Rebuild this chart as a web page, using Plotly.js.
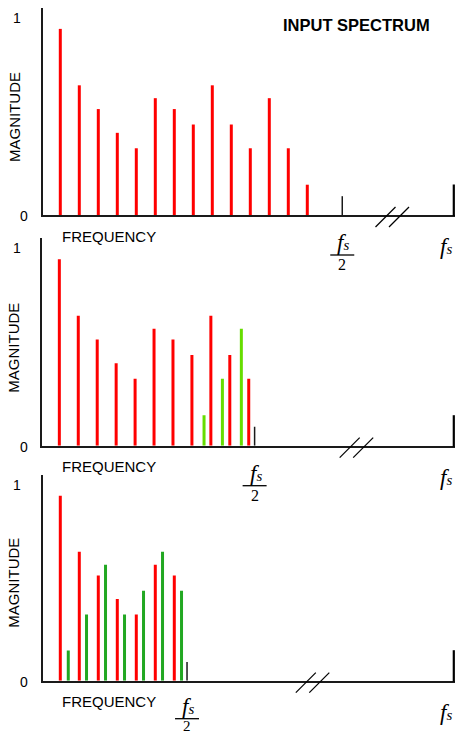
<!DOCTYPE html>
<html><head><meta charset="utf-8">
<script src="https://cdn.plot.ly/plotly-3.0.1.min.js"></script>
<style>html,body{margin:0;padding:0;background:#fff}</style>
</head><body><div id="chart" style="width:455px;height:737px"></div>
<script>
// ---------- DATA ----------
// Panel 1: input spectrum (harmonic number vs magnitude)
const p1RedFreq = [1, 2, 3, 4, 5, 6, 7, 8, 9, 10, 11, 12, 13, 14];
const p1RedMag  = [0.94, 0.655, 0.535, 0.415, 0.337, 0.59, 0.535, 0.457, 0.655, 0.457, 0.337, 0.59, 0.337, 0.153];
const p1HalfFs = 15.84;

// Panel 2: sampled just below Nyquist, a few aliased components
const p2RedFreq = [1, 2, 3, 4, 5, 6, 7, 8, 9, 10, 11];
const p2RedMag  = [0.94, 0.655, 0.535, 0.415, 0.337, 0.59, 0.535, 0.457, 0.655, 0.457, 0.337];
const p2AliasFreq = [8.64, 9.61, 10.61];
const p2AliasMag  = [0.153, 0.337, 0.59];
const p2HalfFs = 11.31;

// Panel 3: heavily undersampled, many aliases
const p3RedFreq = [1, 2, 3, 4, 5, 6, 7];
const p3RedMag  = [0.94, 0.655, 0.535, 0.415, 0.337, 0.59, 0.535];
const p3AliasFreq = [1.42, 2.38, 3.38, 4.38, 5.38, 6.38, 7.38];
const p3AliasMag  = [0.153, 0.337, 0.59, 0.337, 0.457, 0.655, 0.457];
const p3HalfFs = 7.67;

const yTickVals = [0, 1];
const yTickText = ['0', '1'];

// ---------- LAYOUT HELPERS ----------
const W = 455, H = 737;
const px = v => v / W;
const py = v => 1 - v / H;

const RED = '#ff0000';
const LIME = '#66dd00';
const GREEN = '#22a822';
const AX = '#1a1a1a';
const SANS = 'Liberation Sans, Arial, Helvetica, sans-serif';
const SERIF = 'Liberation Serif, Times New Roman, serif';
const FS_TEXT = '<i>f</i><span style="font-size:15px"><i>s</i></span>';

// panel geometry: baseline px, "1" px, top px, axis-left px, origin px, px per unit
const panels = [
  {base: 216,   one: 18,    top: 8,   left: 42, origin: 41.3, unit: 19.0,  brk: 392.5, fOff: 27, barOff: 39, twoOff: 48.5, twoSize: 16},
  {base: 446.7, one: 248.3, top: 238, left: 41, origin: 40.4, unit: 18.94, brk: 356.7, fOff: 27, barOff: 39, twoOff: 49,   twoSize: 16},
  {base: 681.7, one: 485,   top: 475, left: 42, origin: 41.3, unit: 19.0,  brk: 312.8, fOff: 25, barOff: 37, twoOff: 44.5, twoSize: 15}
];
const halves = [p1HalfFs, p2HalfFs, p3HalfFs];

function stems(freqs, mags, color, xa, ya) {
  const x = [], y = [];
  freqs.forEach((f, i) => { x.push(f, f, null); y.push(0, mags[i], null); });
  return {type: 'scatter', mode: 'lines', x, y, xaxis: xa, yaxis: ya,
          line: {color, width: 3}, hoverinfo: 'skip', showlegend: false};
}
function tick(f, xa, ya) {
  return {type: 'scatter', mode: 'lines', x: [f, f], y: [0, 0.095], xaxis: xa, yaxis: ya,
          line: {color: AX, width: 1.5}, hoverinfo: 'skip', showlegend: false};
}

const data = [
  stems(p1RedFreq, p1RedMag, RED, 'x', 'y'),
  tick(p1HalfFs, 'x', 'y'),
  stems(p2RedFreq, p2RedMag, RED, 'x2', 'y2'),
  stems(p2AliasFreq, p2AliasMag, LIME, 'x2', 'y2'),
  tick(p2HalfFs, 'x2', 'y2'),
  stems(p3RedFreq, p3RedMag, RED, 'x3', 'y3'),
  stems(p3AliasFreq, p3AliasMag, GREEN, 'x3', 'y3'),
  tick(p3HalfFs, 'x3', 'y3')
];

const layout = {
  width: W, height: H,
  margin: {l: 0, r: 0, t: 0, b: 0},
  paper_bgcolor: '#fff', plot_bgcolor: 'rgba(0,0,0,0)',
  showlegend: false,
  annotations: [], shapes: []
};

panels.forEach((p, i) => {
  const sfx = i === 0 ? '' : String(i + 1);
  const perUnit = p.base - p.one;
  const half = halves[i];
  layout['xaxis' + sfx] = {
    domain: [px(p.left + 1), 1],
    range: [(p.left + 1 - p.origin) / p.unit, (W - p.origin) / p.unit],
    anchor: 'y' + sfx,
    showline: true, linecolor: AX, linewidth: 2,
    showgrid: false, zeroline: false, showticklabels: false, ticks: '', fixedrange: true
  };
  layout['yaxis' + sfx] = {
    domain: [py(p.base - 1), py(p.top)],
    range: [0, (p.base - 1 - p.top) / perUnit],
    anchor: 'x' + sfx,
    showline: true, linecolor: AX, linewidth: 2,
    showgrid: false, zeroline: false, showticklabels: false, ticks: '', fixedrange: true
  };
  const xr = 'x' + sfx;
  const A = layout.annotations, S = layout.shapes;
  // y tick labels
  A.push({xref: 'paper', yref: 'paper', x: px(16.7), y: py(p.one), text: yTickText[1],
          showarrow: false, xanchor: 'center', yanchor: 'middle', font: {family: SANS, size: 14, color: '#000'}});
  A.push({xref: 'paper', yref: 'paper', x: px(23.5), y: py(p.base), text: yTickText[0],
          showarrow: false, xanchor: 'center', yanchor: 'middle', font: {family: SANS, size: 14, color: '#000'}});
  // axis titles
  A.push({xref: 'paper', yref: 'paper', x: px(60), y: py(p.base + 20), text: 'FREQUENCY',
          showarrow: false, xanchor: 'left', yanchor: 'middle', font: {family: SANS, size: 15, color: '#000'}});
  A.push({xref: 'paper', yref: 'paper', x: px(14), y: py(p.base - 99), text: 'MAGNITUDE', textangle: -90,
          showarrow: false, xanchor: 'center', yanchor: 'middle', font: {family: SANS, size: 15, color: '#000'}});
  // fs/2 fraction
  A.push({xref: xr, yref: 'paper', x: half, y: py(p.base + p.fOff), text: FS_TEXT,
          showarrow: false, xanchor: 'center', yanchor: 'middle', xshift: 1, font: {family: SERIF, size: 23, color: '#000'}});
  S.push({type: 'line', xref: xr, xsizemode: 'pixel', xanchor: half, x0: -12, x1: 12,
          yref: 'paper', y0: py(p.base + p.barOff), y1: py(p.base + p.barOff), line: {color: '#000', width: 1.3}});
  A.push({xref: xr, yref: 'paper', x: half, y: py(p.base + p.twoOff), text: '2', borderpad: 0,
          showarrow: false, xanchor: 'center', yanchor: 'middle', font: {family: SERIF, size: p.twoSize, color: '#000'}});
  // right fs label
  A.push({xref: 'paper', yref: 'paper', x: px(446), y: py(p.base + 31), text: FS_TEXT,
          showarrow: false, xanchor: 'center', yanchor: 'middle', font: {family: SERIF, size: 23, color: '#000'}});
  // right-end tick
  S.push({type: 'line', xref: 'paper', yref: 'paper', x0: px(453.8), x1: px(453.8),
          y0: py(p.base), y1: py(p.base - 31.5), line: {color: '#000', width: 2.2}});
  // axis break marks
  [-7, 6.5].forEach(dx => {
    S.push({type: 'line', xref: 'paper', yref: 'paper',
            x0: px(p.brk + dx - 10), y0: py(p.base + 11), x1: px(p.brk + dx + 10), y1: py(p.base - 9),
            line: {color: '#000', width: 1.2}});
  });
});

layout.annotations.push({xref: 'paper', yref: 'paper', x: px(356.5), y: py(25), text: '<b>INPUT SPECTRUM</b>',
  showarrow: false, xanchor: 'center', yanchor: 'middle', font: {family: SANS, size: 16.5, color: '#000'}});

Plotly.newPlot('chart', data, layout, {displayModeBar: false, staticPlot: true});
</script>
</body></html>
